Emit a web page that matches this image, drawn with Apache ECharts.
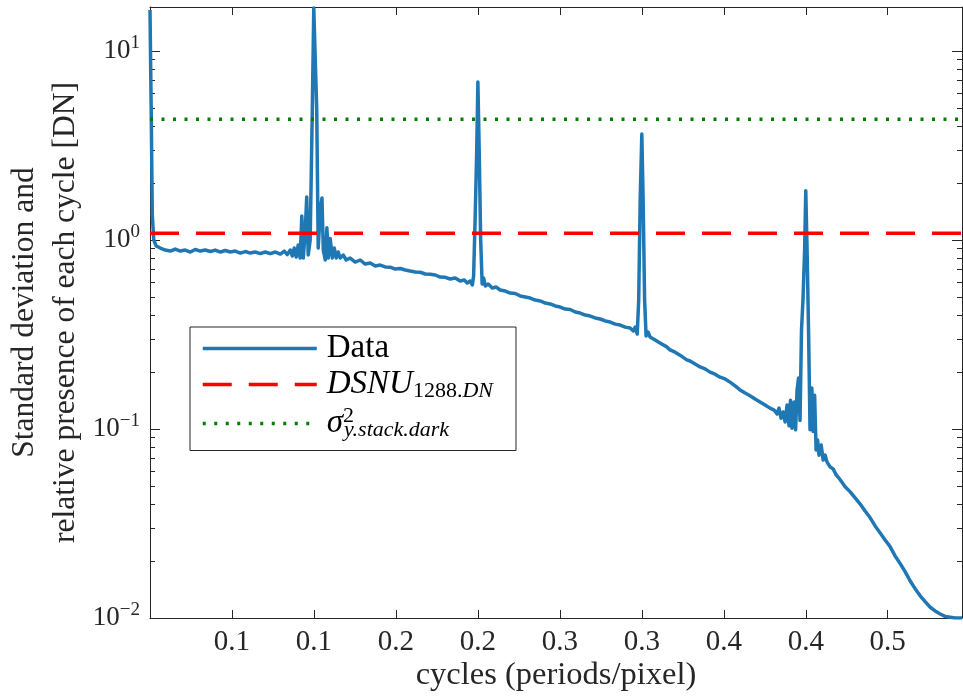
<!DOCTYPE html>
<html><head><meta charset="utf-8">
<script src="https://cdn.jsdelivr.net/npm/echarts@6/dist/echarts.min.js"></script>
<style>html,body{margin:0;padding:0;background:#fff}#c{width:963px;height:700px}</style>
</head><body><div id="c"></div>
<script>
// ---- data ----
const cycles = [0.0000,0.0008,0.0014,0.0023,0.0038,0.0063,0.0093,0.0124,0.0154,0.0185,0.0215,0.0246,0.0276,0.0307,0.0337,0.0368,0.0398,0.0429,0.0459,0.0490,0.0520,0.0551,0.0581,0.0612,0.0642,0.0673,0.0703,0.0734,0.0765,0.0795,0.0819,0.0837,0.0856,0.0868,0.0880,0.0892,0.0904,0.0916,0.0926,0.0935,0.0947,0.0956,0.0965,0.0977,0.0990,0.0999,0.1008,0.1017,0.1026,0.1039,0.1049,0.1057,0.1069,0.1079,0.1087,0.1099,0.1112,0.1124,0.1136,0.1148,0.1160,0.1179,0.1197,0.1221,0.1252,0.1282,0.1313,0.1343,0.1374,0.1404,0.1435,0.1465,0.1496,0.1526,0.1557,0.1587,0.1618,0.1648,0.1679,0.1709,0.1740,0.1770,0.1801,0.1831,0.1862,0.1892,0.1917,0.1935,0.1953,0.1966,0.1974,0.1983,0.1993,0.2000,0.2008,0.2017,0.2026,0.2035,0.2045,0.2063,0.2088,0.2112,0.2136,0.2167,0.2197,0.2228,0.2258,0.2289,0.2319,0.2350,0.2380,0.2411,0.2441,0.2472,0.2502,0.2533,0.2563,0.2594,0.2624,0.2655,0.2685,0.2716,0.2746,0.2777,0.2807,0.2838,0.2868,0.2899,0.2929,0.2948,0.2960,0.2972,0.2981,0.2990,0.3000,0.3008,0.3017,0.3026,0.3038,0.3050,0.3081,0.3111,0.3152,0.3172,0.3203,0.3233,0.3274,0.3294,0.3325,0.3355,0.3386,0.3416,0.3447,0.3477,0.3508,0.3538,0.3569,0.3599,0.3630,0.3660,0.3691,0.3721,0.3752,0.3782,0.3807,0.3825,0.3837,0.3849,0.3862,0.3874,0.3886,0.3898,0.3907,0.3916,0.3929,0.3938,0.3947,0.3956,0.3965,0.3974,0.3983,0.3993,0.4000,0.4008,0.4017,0.4026,0.4037,0.4045,0.4054,0.4063,0.4072,0.4081,0.4094,0.4106,0.4118,0.4130,0.4149,0.4167,0.4185,0.4210,0.4240,0.4271,0.4301,0.4332,0.4362,0.4393,0.4423,0.4454,0.4484,0.4515,0.4545,0.4576,0.4606,0.4637,0.4667,0.4698,0.4728,0.4759,0.4789,0.4820,0.4850,0.4881,0.4911,0.4953];
const stdDev = [16.5,4.31,1.36,1.00,0.930,0.907,0.885,0.874,0.896,0.874,0.885,0.864,0.891,0.874,0.885,0.869,0.885,0.864,0.880,0.864,0.874,0.853,0.869,0.853,0.864,0.848,0.864,0.848,0.864,0.843,0.874,0.838,0.885,0.823,0.907,0.813,0.941,0.803,1.34,0.803,1.13,1.69,0.833,1.00,4.87,16.9,16.9,4.87,0.907,1.44,1.67,0.885,0.784,1.16,0.803,1.02,0.803,0.907,0.803,0.864,0.803,0.833,0.784,0.803,0.765,0.784,0.746,0.756,0.729,0.737,0.720,0.718,0.702,0.707,0.694,0.685,0.677,0.675,0.661,0.659,0.653,0.637,0.635,0.622,0.630,0.607,0.614,0.592,0.607,0.578,0.645,1.28,2.99,6.86,2.99,1.00,0.585,0.630,0.571,0.585,0.557,0.564,0.544,0.537,0.524,0.521,0.506,0.499,0.493,0.481,0.476,0.464,0.459,0.448,0.442,0.431,0.429,0.416,0.411,0.401,0.396,0.387,0.382,0.373,0.368,0.359,0.355,0.346,0.342,0.330,0.346,0.318,0.482,1.63,3.64,1.63,0.482,0.311,0.326,0.307,0.296,0.285,0.272,0.262,0.255,0.246,0.232,0.229,0.221,0.213,0.208,0.200,0.195,0.188,0.184,0.177,0.169,0.161,0.155,0.150,0.144,0.139,0.134,0.129,0.126,0.120,0.129,0.114,0.123,0.109,0.134,0.104,0.142,0.101,0.139,0.099,0.161,0.186,0.111,0.334,0.482,0.885,1.82,0.885,0.334,0.099,0.165,0.097,0.151,0.0774,0.0875,0.0727,0.0824,0.0685,0.0727,0.0668,0.0630,0.0615,0.0573,0.0539,0.0495,0.0465,0.0432,0.0401,0.0368,0.0339,0.0307,0.0282,0.0259,0.0238,0.0213,0.0194,0.0176,0.0157,0.0143,0.0131,0.0122,0.0114,0.0109,0.0105,0.0102,0.0101,0.0100,0.0100];
const xMin = 0, xMax = 0.4953;
const yMin = 0.01, yMax = 17.1;
const xTickValues = [0.05,0.10,0.15,0.20,0.25,0.30,0.35,0.40,0.45];
const xTickLabels = ['0.1','0.1','0.2','0.2','0.3','0.3','0.4','0.4','0.5'];
const yMajorTicks = [0.01,0.1,1,10];
const yMinorTicks = [0.02,0.03,0.04,0.05,0.06,0.07,0.08,0.09,0.2,0.3,0.4,0.5,0.6,0.7,0.8,0.9,2,3,4,5,6,7,8,9];
const dsnuLevel = 1.085;
const sigmaLevel = 4.35;
const seriesNames = ['Data','DSNU','sigma'];

// ---- chart ----
const F = 'Liberation Serif';
const AX = '#262626';
const dataPairs = cycles.map((c, i) => [c, stdDev[i]]);
const hline = v => [[xMin, v], [xMax, v]];

function yAxisDef(pos, ticks, len, showLine, showLabel) {
  return {
    type: 'log', logBase: 10, min: yMin, max: yMax, position: pos,
    axisLine: {show: showLine, lineStyle: {color: AX, width: 1}},
    splitLine: {show: false},
    axisTick: {show: true, inside: true, length: len, customValues: ticks, lineStyle: {color: AX, width: 1}},
    axisLabel: showLabel ? {
      show: true, customValues: yMajorTicks, margin: 10,
      formatter: v => {
        const e = Math.round(Math.log10(v));
        return '{b|10}{e|' + (e < 0 ? '\u2212' + (-e) : e) + '}';
      },
      rich: {
        b: {fontFamily: F, fontSize: 27, color: AX, lineHeight: 30},
        e: {fontFamily: F, fontSize: 19, color: AX, padding: [0, 0, 16, 0], lineHeight: 30}
      }
    } : {show: false},
    name: showLabel ? 'Standard deviation and\nrelative presence of each cycle [DN]' : '',
    nameLocation: 'middle', nameGap: 64, nameRotate: 90, nameMoveOverlap: false,
    nameTextStyle: {fontFamily: F, fontSize: 31.5, color: AX, lineHeight: 41}
  };
}

const chart = echarts.init(document.getElementById('c'));
chart.setOption({
  animation: false,
  backgroundColor: '#fff',
  grid: {left: 150, right: 1, top: 7, bottom: 82, containLabel: false, outerBoundsMode: 'none'},
  xAxis: [{
    type: 'value', min: xMin, max: xMax, position: 'bottom',
    axisLine: {show: true, onZero: false, lineStyle: {color: AX, width: 1}},
    splitLine: {show: false},
    axisTick: {show: true, inside: true, length: 8, customValues: xTickValues, lineStyle: {color: AX}},
    axisLabel: {show: true, customValues: xTickValues, margin: 10, fontFamily: F, fontSize: 29, color: AX,
      formatter: v => { const i = xTickValues.findIndex(t => Math.abs(t - v) < 1e-6); return i >= 0 ? xTickLabels[i] : ''; }},
    name: 'cycles (periods/pixel)', nameLocation: 'middle', nameGap: 41, nameMoveOverlap: false,
    nameTextStyle: {fontFamily: F, fontSize: 32.5, color: AX}
  }, {
    type: 'value', min: xMin, max: xMax, position: 'top',
    axisLine: {show: true, onZero: false, lineStyle: {color: AX, width: 1}},
    splitLine: {show: false},
    axisTick: {show: true, inside: true, length: 8, customValues: xTickValues, lineStyle: {color: AX}},
    axisLabel: {show: false}
  }],
  yAxis: [
    yAxisDef('left', yMajorTicks, 10, true, true),
    yAxisDef('left', yMinorTicks, 5, false, false),
    yAxisDef('right', yMajorTicks, 10, true, false),
    yAxisDef('right', yMinorTicks, 5, false, false)
  ],
  legend: {
    orient: 'vertical', left: 190, top: 327,
    data: seriesNames,
    backgroundColor: '#fff', borderColor: AX, borderWidth: 1,
    padding: [5, 23, 9, 11],
    itemWidth: 114, itemHeight: 14, itemGap: 3,
    lineStyle: {width: 3.5},
    itemStyle: {opacity: 0},
    selectedMode: false,
    textStyle: {fontFamily: F, fontSize: 33, color: '#000', padding: [0, 0, 0, 5],
      rich: {
        rm: {fontFamily: F, fontSize: 33, color: '#000', height: 36},
        it: {fontFamily: F, fontStyle: 'italic', fontSize: 33, color: '#000', height: 36},
        sub: {fontFamily: F, fontSize: 22, color: '#000', height: 22, padding: [14, 0, 0, 0]},
        subit: {fontFamily: F, fontStyle: 'italic', fontSize: 22, color: '#000', height: 22, padding: [14, 0, 0, 0]},
        sup: {fontFamily: F, fontSize: 22, color: '#000', height: 22, padding: [0, 0, 14, 0], width: 1}
      }},
    formatter: name => {
      if (name === 'Data') return '{rm|Data}';
      if (name === 'DSNU') return '{it|DSNU}{sub|1288.}{subit|DN}';
      return '{it|\u03c3}{sup|2}{subit|y.stack.dark}';
    }
  },
  series: [{
    name: seriesNames[0], type: 'line', data: dataPairs, xAxisIndex: 0, yAxisIndex: 0,
    showSymbol: false, symbol: 'none', smooth: false,
    lineStyle: {color: '#1f77b4', width: 3.5, join: 'round'}, itemStyle: {color: '#1f77b4'}
  }, {
    name: seriesNames[1], type: 'line', data: hline(dsnuLevel), xAxisIndex: 0, yAxisIndex: 0,
    showSymbol: false, symbol: 'none',
    lineStyle: {color: '#ff0000', width: 3.5, type: [29, 17]}, itemStyle: {color: '#ff0000'}
  }, {
    name: seriesNames[2], type: 'line', data: hline(sigmaLevel), xAxisIndex: 0, yAxisIndex: 0,
    showSymbol: false, symbol: 'none',
    lineStyle: {color: '#008000', width: 3.5, type: [3, 8.5]}, itemStyle: {color: '#008000'}
  }]
});
</script>
</body></html>
